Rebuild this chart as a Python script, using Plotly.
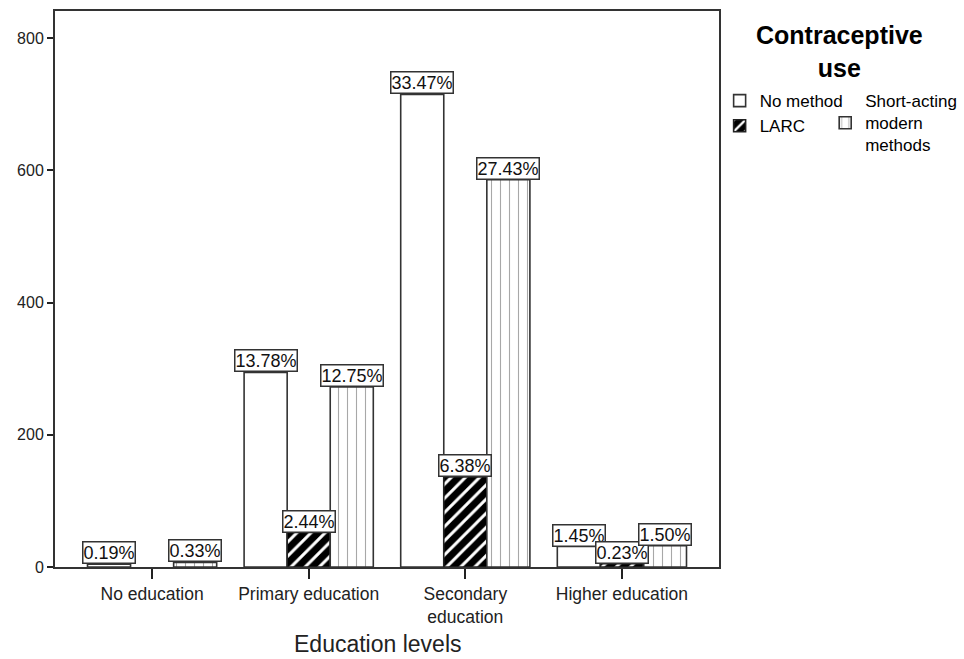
import plotly.graph_objects as go

# Education level categories along the x axis
categories = ["No education", "Primary education", "Secondary<br>education", "Higher education"]

# Percentage of all respondents in each education level / method cell
pct_no_method = [0.19, 13.78, 33.47, 1.45]
pct_larc = [None, 2.44, 6.38, 0.23]
pct_short_acting = [0.33, 12.75, 27.43, 1.50]

# Total number of respondents (percentages are shares of this total)
total_n = 2136

series_names = ["No method", "LARC", "Short-acting<br>modern<br>methods"]
y_ticks = [0, 200, 400, 600, 800]

FONT = "Liberation Sans, Arial, sans-serif"
bar_w = 0.275


def to_counts(pcts):
    return [None if p is None else p / 100.0 * total_n for p in pcts]


series = [
    dict(name=series_names[0], pcts=pct_no_method, legend="legend",
         marker=dict(color="white", line=dict(color="#333333", width=1.6))),
    dict(name=series_names[1], pcts=pct_larc, legend="legend",
         marker=dict(color="black", line=dict(color="#222222", width=1.6),
                     pattern=dict(shape="/", fgcolor="white", bgcolor="black",
                                  size=10, solidity=0.3, fillmode="replace"))),
    dict(name=series_names[2], pcts=pct_short_acting, legend="legend2",
         marker=dict(color="white", line=dict(color="#333333", width=1.6),
                     pattern=dict(shape="|", fgcolor="#a8a8a8", bgcolor="white",
                                  size=9, solidity=0.12, fillmode="replace"))),
]

fig = go.Figure()
annotations = []

for k, s in enumerate(series):
    offset = (k - 1) * bar_w
    xs = [i + offset for i in range(len(categories))]
    counts = to_counts(s["pcts"])
    fig.add_trace(go.Bar(
        x=xs, y=counts, width=bar_w, name=s["name"], marker=s["marker"],
        legend=s["legend"], hoverinfo="skip",
    ))
    for x, c, p in zip(xs, counts, s["pcts"]):
        if p is None:
            continue
        annotations.append(dict(
            x=x, y=c, xref="x", yref="y", text=f"{p:.2f}%",
            showarrow=False, xanchor="center", yanchor="bottom",
            font=dict(family=FONT, size=18, color="#111111"),
            bgcolor="white", bordercolor="#333333", borderwidth=1.5, borderpad=0,
        ))

# Legend heading
annotations.append(dict(
    x=1.181, y=0.985, xref="paper", yref="paper", text="<b>Contraceptive<br>use</b>",
    showarrow=False, xanchor="center", yanchor="top", align="center",
    font=dict(family=FONT, size=25, color="black"),
))

# X axis title
annotations.append(dict(
    x=0.486, y=-0.139, xref="paper", yref="paper", text="Education levels",
    showarrow=False, xanchor="center", yanchor="middle",
    font=dict(family=FONT, size=23, color="#222222"),
))

legend_font = dict(family=FONT, size=17, color="black")

fig.update_layout(
    width=964, height=659,
    margin=dict(l=55, r=245, t=11, b=92),
    paper_bgcolor="white", plot_bgcolor="white",
    font=dict(family=FONT, color="#222222"),
    barmode="overlay",
    showlegend=True,
    legend=dict(xref="container", yref="container", x=0.7465, y=0.874,
                xanchor="left", yanchor="top", font=legend_font,
                bgcolor="rgba(0,0,0,0)", tracegroupgap=0, itemwidth=30),
    legend2=dict(xref="container", yref="container", x=0.856, y=0.874,
                 xanchor="left", yanchor="top", font=legend_font,
                 bgcolor="rgba(0,0,0,0)", itemwidth=30),
    annotations=annotations,
    xaxis=dict(
        range=[-0.62, 3.62], tickvals=list(range(len(categories))), ticktext=categories,
        ticks="outside", ticklen=10, tickwidth=1.5, tickcolor="#222222",
        showline=True, linecolor="#333333", linewidth=2, mirror=True,
        showgrid=False, zeroline=False, automargin=False,
        tickfont=dict(family=FONT, size=17.5, color="#222222"),
    ),
    yaxis=dict(
        range=[0, 841], tickvals=y_ticks,
        ticks="outside", ticklen=6, tickwidth=1.5, tickcolor="#222222",
        showline=True, linecolor="#333333", linewidth=2, mirror=True,
        showgrid=False, zeroline=False, automargin=False,
        tickfont=dict(family=FONT, size=16, color="#222222"),
    ),
)

fig.write_html("out.html")
